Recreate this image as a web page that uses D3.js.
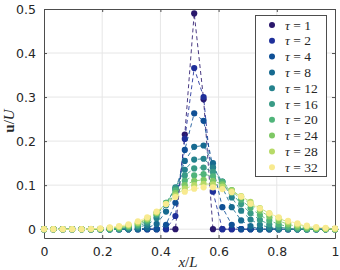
<!DOCTYPE html>
<html lang="en">
<head>
<meta charset="UTF-8">
<script src="https://d3js.org/d3.v7.min.js"></script>
<style>
  body { margin: 0; background: #fff; }
  svg { display: block; }
  .tick text { font-family: "DejaVu Sans", sans-serif; font-size: 12.5px; fill: #262626; }
  .math { font-family: "Liberation Serif", "DejaVu Serif", serif; }
</style>
</head>
<body>
<svg id="chart" width="340" height="270"></svg>
<script>
// data: 32 grid points x = i/31, one array per tau
const taus = [1, 2, 4, 8, 12, 16, 20, 24, 28, 32];
const colors = ["#2a186c", "#1e2f9a", "#0f5096", "#166a90", "#25828d", "#399b86", "#50b47a", "#7ec865", "#b7da68", "#f8ea8f"];

const u1  = [0,0,0,0,0,0,0,0,0,0,0,0,0,0,0,0.215,0.49,0.295,0,0,0,0,0,0,0,0,0,0,0,0,0,0];
const u2  = [0,0,0,0,0,0,0,0,0,0,0,0,0,0,0.03,0.205,0.366,0.3,0.085,0,0,0,0,0,0,0,0,0,0,0,0,0];
const u4  = [0,0,0,0,0,0,0,0,0,0,0,0,0,0.01,0.06,0.18,0.263,0.246,0.14,0.05,0.01,0,0,0,0,0,0,0,0,0,0,0];
const u8  = [0,0,0,0,0,0,0,0,0,0,0,0.003,0.012,0.04,0.09,0.155,0.187,0.19,0.15,0.095,0.05,0.02,0.007,0,0,0,0,0,0,0,0,0];
const u12 = [0,0,0,0,0,0,0,0,0,0,0.004,0.01,0.025,0.055,0.095,0.135,0.158,0.16,0.14,0.108,0.072,0.042,0.022,0.01,0.004,0,0,0,0,0,0,0];
const u16 = [0,0,0,0,0,0,0,0,0,0.003,0.007,0.015,0.032,0.06,0.093,0.122,0.138,0.14,0.13,0.108,0.082,0.057,0.036,0.021,0.011,0.005,0.002,0,0,0,0,0];
const u20 = [0,0,0,0,0,0,0,0,0.002,0.005,0.01,0.019,0.035,0.06,0.088,0.11,0.122,0.125,0.12,0.107,0.088,0.067,0.048,0.032,0.02,0.011,0.006,0.003,0,0,0,0];
const u24 = [0,0,0,0,0,0,0,0.002,0.004,0.007,0.013,0.022,0.037,0.058,0.082,0.1,0.11,0.112,0.11,0.102,0.089,0.073,0.057,0.042,0.029,0.019,0.011,0.006,0.003,0.001,0,0];
const u28 = [0,0,0,0,0,0,0.001,0.003,0.005,0.009,0.015,0.024,0.038,0.057,0.077,0.092,0.1,0.103,0.102,0.097,0.087,0.075,0.062,0.048,0.036,0.025,0.016,0.01,0.006,0.003,0.001,0];
const u32 = [0,0,0,0,0,0.001,0.002,0.004,0.007,0.011,0.018,0.027,0.04,0.057,0.073,0.085,0.092,0.095,0.095,0.091,0.084,0.074,0.058,0.047,0.036,0.027,0.019,0.013,0.008,0.005,0.003,0.002];
const series = [u1, u2, u4, u8, u12, u16, u20, u24, u28, u32];

const xTicks = [0, 0.2, 0.4, 0.6, 0.8, 1];
const yTicks = [0, 0.1, 0.2, 0.3, 0.4, 0.5];

const svg = d3.select("#chart");
const x = d3.scaleLinear().domain([0, 1]).range([44, 335]);
const y = d3.scaleLinear().domain([-0.02, 0.5]).range([238, 9]);

// grid
svg.append("g").selectAll("line").data(xTicks.slice(1, -1)).join("line")
  .attr("x1", d => x(d)).attr("x2", d => x(d)).attr("y1", y.range()[0]).attr("y2", y.range()[1])
  .attr("stroke", "#e6e6e6").attr("stroke-width", 1);
svg.append("g").selectAll("line").data(yTicks.slice(0, -1)).join("line")
  .attr("y1", d => y(d)).attr("y2", d => y(d)).attr("x1", x.range()[0]).attr("x2", x.range()[1])
  .attr("stroke", "#e6e6e6").attr("stroke-width", 1);

// axes
const fmt = d => d === 0 ? "0" : d === 1 ? "1" : d3.format(".1f")(d);
const xAxis = svg.append("g").attr("transform", `translate(0,${y(-0.02)})`)
  .call(d3.axisBottom(x).tickValues(xTicks).tickFormat(fmt).tickSizeInner(-3).tickSizeOuter(0).tickPadding(9));
const xTop = svg.append("g").attr("transform", `translate(0,${y(0.5)})`)
  .call(d3.axisTop(x).tickValues(xTicks).tickFormat("").tickSizeInner(-3).tickSizeOuter(0));
const yAxis = svg.append("g").attr("transform", `translate(${x(0)},0)`)
  .call(d3.axisLeft(y).tickValues(yTicks).tickFormat(fmt).tickSizeInner(-3).tickSizeOuter(0).tickPadding(8));
const yRight = svg.append("g").attr("transform", `translate(${x(1)},0)`)
  .call(d3.axisRight(y).tickValues(yTicks).tickFormat("").tickSizeInner(-3).tickSizeOuter(0));
[xAxis, xTop, yAxis, yRight].forEach(g => {
  g.select(".domain").attr("stroke", "#4d4d4d");
  g.selectAll(".tick line").attr("stroke", "#4d4d4d");
});

// series
const line = d3.line().x((d, i) => x(i / 31)).y(d => y(d));
series.forEach((s, k) => {
  const g = svg.append("g");
  g.append("path").datum(s).attr("d", line)
    .attr("fill", "none").attr("stroke", colors[k]).attr("stroke-width", 1)
    .attr("stroke-dasharray", "4,3").attr("opacity", 0.85);
  g.selectAll("circle").data(s).join("circle")
    .attr("cx", (d, i) => x(i / 31)).attr("cy", d => y(d)).attr("r", 3.1)
    .attr("fill", colors[k]);
});

// legend
const leg = svg.append("g");
leg.append("rect").attr("x", 255.5).attr("y", 15.5).attr("width", 71).attr("height", 161)
  .attr("fill", "#fff").attr("stroke", "#4d4d4d").attr("stroke-width", 1);
taus.forEach((t, k) => {
  const yy = 25 + k * 15.8;
  leg.append("circle").attr("cx", 272).attr("cy", yy).attr("r", 3).attr("fill", colors[k]);
  const tx = leg.append("text").attr("class", "math").attr("x", 285).attr("y", yy + 4.5)
    .attr("font-size", 13.5).attr("fill", "#262626");
  tx.append("tspan").attr("font-style", "italic").text("τ");
  tx.append("tspan").text(" = " + t);
});

// axis labels
const xl = svg.append("text").attr("class", "math").attr("x", 188).attr("y", 267)
  .attr("text-anchor", "middle").attr("font-size", 15).attr("fill", "#262626");
xl.append("tspan").attr("font-style", "italic").text("x");
xl.append("tspan").text("/");
xl.append("tspan").attr("font-style", "italic").text("L");

const yl = svg.append("text").attr("class", "math").attr("transform", "translate(14,121) rotate(-90)")
  .attr("text-anchor", "middle").attr("font-size", 15).attr("fill", "#262626");
yl.append("tspan").attr("font-weight", "bold").text("u");
yl.append("tspan").text("/");
yl.append("tspan").attr("font-style", "italic").text("U");
</script>
</body>
</html>
